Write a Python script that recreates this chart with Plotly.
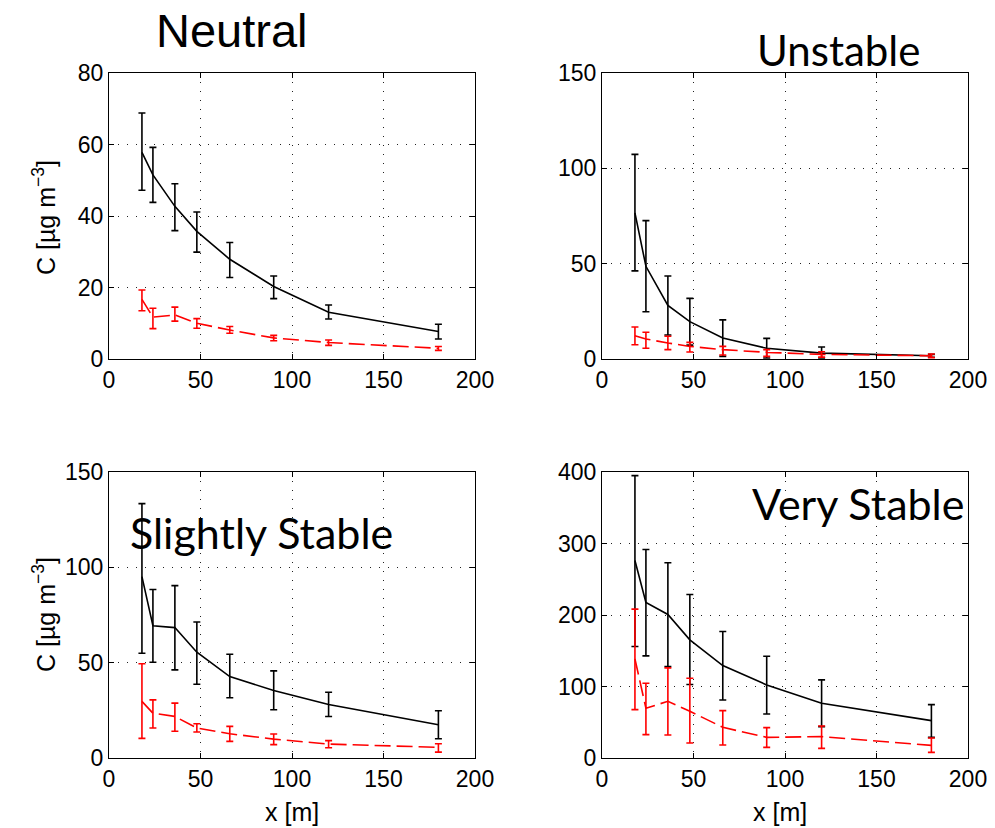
import plotly.graph_objects as go

# ---------------- data ----------------
x_m = [18, 24, 36, 48, 66, 90, 120, 180]

# Neutral
neu_blk = [57.8, 51.5, 42.7, 35.7, 27.9, 20.3, 13.1, 7.7]
neu_blk_hi = [68.8, 59.2, 49.0, 41.1, 32.6, 23.2, 15.1, 9.7]
neu_blk_lo = [47.2, 43.8, 35.9, 29.9, 22.8, 16.9, 11.2, 5.6]
neu_red = [16.7, 11.7, 12.3, 10.0, 8.1, 5.9, 4.6, 3.0]
neu_red_hi = [19.3, 14.2, 14.5, 11.3, 9.1, 6.6, 5.3, 3.5]
neu_red_lo = [13.5, 8.5, 10.6, 8.6, 7.2, 5.1, 3.8, 2.4]

# Unstable
uns_blk = [76.6, 48.6, 28.1, 19.6, 11.0, 5.6, 3.1, 1.7]
uns_blk_hi = [107.3, 72.6, 43.5, 31.8, 20.5, 10.8, 6.3, 2.4]
uns_blk_lo = [46.2, 24.8, 12.6, 7.3, 1.4, 0.5, 0.5, 0.9]
uns_red = [12.2, 10.5, 8.4, 6.6, 4.9, 3.5, 2.4, 1.7]
uns_red_hi = [16.8, 14.0, 11.9, 8.7, 6.6, 4.9, 3.8, 2.6]
uns_red_lo = [7.5, 5.6, 4.9, 3.7, 2.1, 1.4, 1.0, 0.7]

# Slightly Stable
sls_blk = [95.1, 69.4, 68.4, 55.5, 42.7, 35.4, 28.1, 17.4]
sls_blk_hi = [133.4, 88.4, 90.4, 71.3, 54.4, 45.7, 34.5, 24.8]
sls_blk_lo = [54.9, 50.2, 46.2, 38.7, 31.6, 25.3, 21.8, 10.1]
sls_red = [29.7, 23.5, 21.8, 15.7, 12.7, 9.9, 7.3, 5.6]
sls_red_hi = [49.4, 30.5, 28.8, 18.0, 16.6, 12.6, 9.1, 7.5]
sls_red_lo = [10.3, 15.7, 14.0, 13.6, 8.7, 7.0, 5.4, 3.1]

# Very Stable
vst_blk = [276.3, 217.5, 200.7, 165.2, 129.3, 102.2, 76.5, 52.3]
vst_blk_hi = [394.9, 291.7, 273.0, 228.7, 176.9, 142.4, 109.2, 74.7]
vst_blk_lo = [155.9, 142.8, 127.9, 102.7, 81.2, 61.6, 43.9, 28.9]
vst_red = [138.6, 69.5, 79.3, 65.3, 42.9, 28.9, 29.9, 17.7]
vst_red_hi = [208.2, 104.5, 126.0, 111.6, 66.3, 42.5, 44.8, 28.0]
vst_red_lo = [67.7, 32.7, 32.2, 21.0, 18.2, 14.9, 13.5, 7.9]

panel_titles = ["Neutral", "Unstable", "Slightly Stable", "Very Stable"]
x_ticks = [0, 50, 100, 150, 200]
y_ticks = [[0, 20, 40, 60, 80], [0, 50, 100, 150], [0, 50, 100, 150], [0, 100, 200, 300, 400]]
y_label = "C [µg m<sup>−3</sup>]"
x_label = "x [m]"

panels = [
    (neu_blk, neu_blk_hi, neu_blk_lo, neu_red, neu_red_hi, neu_red_lo),
    (uns_blk, uns_blk_hi, uns_blk_lo, uns_red, uns_red_hi, uns_red_lo),
    (sls_blk, sls_blk_hi, sls_blk_lo, sls_red, sls_red_hi, sls_red_lo),
    (vst_blk, vst_blk_hi, vst_blk_lo, vst_red, vst_red_hi, vst_red_lo),
]

# ---------------- layout geometry (page pixels, body margin 8px) ----------------
OFF = 8
W, H = 995 - OFF, 828 - OFF


def px(xp):
    return (xp - OFF) / W


def py(yp):
    return 1 - (yp - OFF) / H


xdoms = [[px(109), px(475)], [px(602), px(968)]]
ydoms = [[py(359), py(73)], [py(758), py(472)]]

fig = go.Figure()
SANS = "Liberation Sans, Arial, sans-serif"
TICKFONT = dict(family=SANS, size=23, color="black")

for i, (bm, bh, bl, rm, rh, rl) in enumerate(panels):
    row, col = divmod(i, 2)
    xa = "x" if i == 0 else f"x{i+1}"
    ya = "y" if i == 0 else f"y{i+1}"
    fig.add_trace(go.Scatter(
        x=x_m, y=bm, xaxis=xa, yaxis=ya, mode="lines",
        line=dict(color="black", width=1.6),
        error_y=dict(type="data", symmetric=False,
                     array=[h - m for h, m in zip(bh, bm)],
                     arrayminus=[m - l for m, l in zip(bm, bl)],
                     color="black", thickness=1.6, width=3.5),
        showlegend=False))
    fig.add_trace(go.Scatter(
        x=x_m, y=rm, xaxis=xa, yaxis=ya, mode="lines",
        line=dict(color="#ff0000", width=1.6, dash="16px,6px"),
        error_y=dict(type="data", symmetric=False,
                     array=[h - m for h, m in zip(rh, rm)],
                     arrayminus=[m - l for m, l in zip(rm, rl)],
                     color="#ff0000", thickness=1.6, width=3.5),
        showlegend=False))

    axcommon = dict(showline=True, linecolor="black", linewidth=1.3, mirror="ticks",
                    ticks="inside", ticklen=5, tickcolor="black", tickwidth=1,
                    showgrid=True, gridcolor="#222", gridwidth=1, griddash="1px,8px",
                    zeroline=False, tickfont=TICKFONT, automargin=False)
    xkey = "xaxis" if i == 0 else f"xaxis{i+1}"
    ykey = "yaxis" if i == 0 else f"yaxis{i+1}"
    fig.layout[xkey] = dict(axcommon, domain=xdoms[col], anchor=ya,
                            range=[0, 200], tickvals=x_ticks)
    fig.layout[ykey] = dict(axcommon, domain=ydoms[row], anchor=xa,
                            range=[y_ticks[i][0], y_ticks[i][-1]], tickvals=y_ticks[i])

# axis titles
for yc in (218, 615):
    fig.add_annotation(text=y_label, x=px(44), y=py(yc), xref="paper", yref="paper",
                       xanchor="center", yanchor="middle", showarrow=False, textangle=-90,
                       font=dict(family=SANS, size=25, color="black"))
for xc in (292, 780):
    fig.add_annotation(text=x_label, x=px(xc), y=py(812), xref="paper", yref="paper",
                       xanchor="center", yanchor="middle", showarrow=False,
                       font=dict(family=SANS, size=25, color="black"))

# panel titles
CAL = "Lato, Open Sans, sans-serif"
title_specs = [
    (panel_titles[0], 232, 30, SANS, 47),
    (panel_titles[1], 838, 50, CAL, 42),
    (panel_titles[2], 261, 532, CAL, 43),
    (panel_titles[3], 858, 503, CAL, 43),
]
for txt, xc, yc, fam, sz in title_specs:
    fig.add_annotation(text=txt, x=px(xc), y=py(yc), xref="paper", yref="paper",
                       xanchor="center", yanchor="middle", showarrow=False,
                       font=dict(family=fam, size=sz, color="black"))

fig.update_layout(width=W, height=H, margin=dict(l=0, r=0, t=0, b=0),
                  paper_bgcolor="white", plot_bgcolor="white")
fig.write_html("out.html")
